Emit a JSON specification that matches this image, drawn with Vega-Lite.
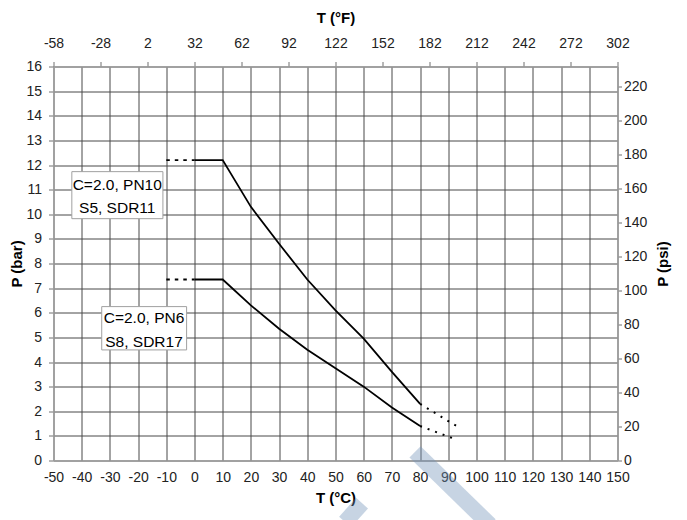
{
  "$schema": "https://vega.github.io/schema/vega-lite/v6.json",
  "width": 564,
  "height": 394,
  "autosize": "none",
  "padding": {"left": 53.5, "top": 66.5, "right": 69.5, "bottom": 59.5},
  "config": {
    "view": {"stroke": null},
    "font": "Liberation Sans, Arial, sans-serif",
    "axis": {
      "labelFont": "Liberation Sans, Arial, sans-serif",
      "titleFont": "Liberation Sans, Arial, sans-serif",
      "labelFontSize": 14,
      "labelColor": "#222222",
      "titleFontSize": 15,
      "titleFontWeight": "bold",
      "titleColor": "#000000",
      "domainColor": "#a0a0a0",
      "domainWidth": 1.5,
      "tickColor": "#707070",
      "gridColor": "#484848",
      "gridWidth": 1,
      "gridOpacity": 1,
      "labelExpr": "'' + datum.value"
    }
  },
  "datasets": {
    "curves": [
      {"series": "PN10", "part": "dashL", "T": -10, "P": 12.2},
      {"series": "PN10", "part": "dashL", "T": 0, "P": 12.2},
      {"series": "PN10", "part": "solid", "T": 0, "P": 12.2},
      {"series": "PN10", "part": "solid", "T": 10, "P": 12.2},
      {"series": "PN10", "part": "solid", "T": 20, "P": 10.3},
      {"series": "PN10", "part": "solid", "T": 30, "P": 8.8},
      {"series": "PN10", "part": "solid", "T": 40, "P": 7.35},
      {"series": "PN10", "part": "solid", "T": 50, "P": 6.1},
      {"series": "PN10", "part": "solid", "T": 60, "P": 4.95},
      {"series": "PN10", "part": "solid", "T": 70, "P": 3.6},
      {"series": "PN10", "part": "solid", "T": 80, "P": 2.3},
      {"series": "PN10", "part": "dotR", "T": 80, "P": 2.3},
      {"series": "PN10", "part": "dotR", "T": 90, "P": 1.6},
      {"series": "PN10", "part": "dotR", "T": 93, "P": 1.4},
      {"series": "PN6", "part": "dashL", "T": -10, "P": 7.35},
      {"series": "PN6", "part": "dashL", "T": 0, "P": 7.35},
      {"series": "PN6", "part": "solid", "T": 0, "P": 7.35},
      {"series": "PN6", "part": "solid", "T": 10, "P": 7.35},
      {"series": "PN6", "part": "solid", "T": 20, "P": 6.3},
      {"series": "PN6", "part": "solid", "T": 30, "P": 5.35},
      {"series": "PN6", "part": "solid", "T": 40, "P": 4.5},
      {"series": "PN6", "part": "solid", "T": 50, "P": 3.75},
      {"series": "PN6", "part": "solid", "T": 60, "P": 3.0},
      {"series": "PN6", "part": "solid", "T": 70, "P": 2.15},
      {"series": "PN6", "part": "solid", "T": 80, "P": 1.4},
      {"series": "PN6", "part": "dotR", "T": 80, "P": 1.4},
      {"series": "PN6", "part": "dotR", "T": 90, "P": 0.97},
      {"series": "PN6", "part": "dotR", "T": 93, "P": 0.85}
    ],
    "boxes": [
      {"box": "PN10", "T": -43.5, "T2": -11.2, "P": 9.82, "P2": 11.73},
      {"box": "PN6", "T": -32.9, "T2": -2.8, "P": 4.49, "P2": 6.25}
    ],
    "labels": [
      {"T": -27.4, "P": 11.2, "label": "C=2.0, PN10"},
      {"T": -27.4, "P": 10.27, "label": "S5, SDR11"},
      {"T": -17.9, "P": 5.8, "label": "C=2.0, PN6"},
      {"T": -17.9, "P": 4.83, "label": "S8, SDR17"}
    ],
    "mark": [
      {"piece": "right", "T": 78.2, "P": 0.35},
      {"piece": "right", "T": 104.8, "P": -2.62},
      {"piece": "left", "T": 59.4, "P": -1.73},
      {"piece": "left", "T": 53.4, "P": -2.5}
    ],
    "secondary": [
      {"F": -58, "psi": 0},
      {"F": 302, "psi": 232.06}
    ]
  },
  "layer": [
    {
      "encoding": {
        "x": {
          "field": "T", "type": "quantitative",
          "scale": {"domain": [-50, 150], "nice": false, "zero": false},
          "axis": {
            "orient": "bottom", "title": "T (°C)",
            "values": [-50, -40, -30, -20, -10, 0, 10, 20, 30, 40, 50, 60, 70, 80, 90, 100, 110, 120, 130, 140, 150],
            "grid": true, "ticks": false, "labelPadding": 10, "titlePadding": 6, "labelFlush": false
          }
        },
        "y": {
          "field": "P", "type": "quantitative",
          "scale": {"domain": [0, 16], "nice": false, "zero": false},
          "axis": {
            "orient": "left", "title": "P (bar)",
            "values": [0, 1, 2, 3, 4, 5, 6, 7, 8, 9, 10, 11, 12, 13, 14, 15, 16],
            "grid": true, "ticks": true, "tickSize": 5, "labelPadding": 7, "titlePadding": 1, "labelFlush": false
          }
        }
      },
      "layer": [
        {
          "data": {"name": "mark"},
          "mark": {"type": "line", "strokeWidth": 16, "strokeCap": "butt", "color": "#7393b8", "opacity": 0.4, "clip": false},
          "encoding": {"detail": {"field": "piece"}}
        },
        {
          "data": {"name": "boxes"},
          "mark": {"type": "rect", "fill": "#ffffff", "stroke": "#a0a0a0", "strokeWidth": 1},
          "encoding": {"x2": {"field": "T2"}, "y2": {"field": "P2"}}
        },
        {
          "data": {"name": "labels"},
          "mark": {"type": "text", "fontSize": 15.5, "align": "center", "baseline": "middle", "color": "#000000", "font": "Liberation Sans, Arial, sans-serif"},
          "encoding": {"text": {"field": "label"}}
        },
        {
          "data": {"name": "curves"},
          "transform": [{"filter": "datum.part === 'solid'"}],
          "mark": {"type": "line", "color": "#000000", "strokeWidth": 1.8},
          "encoding": {"detail": {"field": "series"}}
        },
        {
          "data": {"name": "curves"},
          "transform": [{"filter": "datum.part === 'dashL'"}],
          "mark": {"type": "line", "color": "#000000", "strokeWidth": 1.8, "strokeDash": [3.5, 5]},
          "encoding": {"detail": {"field": "series"}}
        },
        {
          "data": {"name": "curves"},
          "transform": [{"filter": "datum.part === 'dotR'"}],
          "mark": {"type": "line", "color": "#000000", "strokeWidth": 2, "strokeDash": [2, 6]},
          "encoding": {"detail": {"field": "series"}}
        }
      ]
    },
    {
      "data": {"name": "secondary"},
      "mark": {"type": "point", "opacity": 0},
      "encoding": {
        "x": {
          "field": "F", "type": "quantitative",
          "scale": {"domain": [-58, 302], "nice": false, "zero": false},
          "axis": {
            "orient": "top", "title": "T (°F)",
            "values": [-58, -28, 2, 32, 62, 92, 122, 152, 182, 212, 242, 272, 302],
            "grid": false, "ticks": true, "tickSize": 5, "labelPadding": 11, "titlePadding": 11, "labelFlush": false
          }
        },
        "y": {
          "field": "psi", "type": "quantitative",
          "scale": {"domain": [0, 232.06], "nice": false, "zero": false},
          "axis": {
            "orient": "right", "title": "P (psi)", "titleAngle": -90,
            "values": [0, 20, 40, 60, 80, 100, 120, 140, 160, 180, 200, 220],
            "grid": false, "ticks": true, "tickSize": 4, "labelPadding": 2, "titlePadding": 24, "labelFlush": false
          }
        }
      }
    }
  ],
  "resolve": {"scale": {"x": "independent", "y": "independent"}}
}
